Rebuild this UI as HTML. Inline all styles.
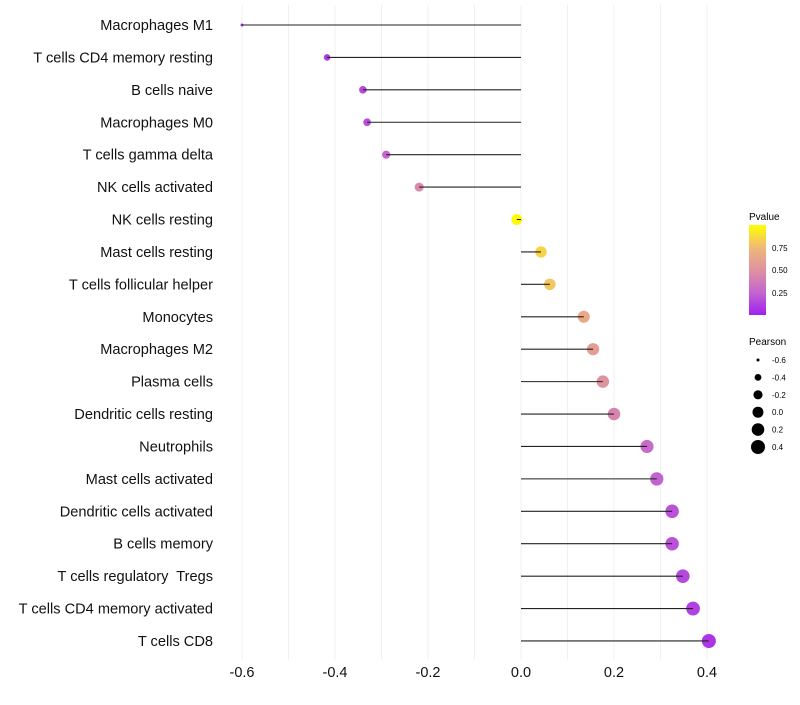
<!DOCTYPE html>
<html><head><meta charset="utf-8"><style>
body{margin:0;background:#fff;font-family:"Liberation Sans",sans-serif}
svg text{font-family:"Liberation Sans",sans-serif;white-space:pre}
</style></head><body>
<svg id="chart" width="800" height="700">
<defs><linearGradient id="pg" x1="0" y1="1" x2="0" y2="0">
<stop offset="0" stop-color="#A020F0"/><stop offset="0.25" stop-color="#C465D0"/><stop offset="0.5" stop-color="#DE92A0"/><stop offset="0.75" stop-color="#F0B878"/><stop offset="1" stop-color="#FFFF00"/></linearGradient></defs>
<g id="grid"></g><g id="marks"></g><g id="labels"></g>
<g>
<text x="749" y="220" font-size="10">Pvalue</text>
<rect x="749" y="225" width="17" height="90" fill="url(#pg)"/>
<text x="772" y="251" font-size="8">0.75</text>
<text x="772" y="273" font-size="8">0.50</text>
<text x="772" y="296" font-size="8">0.25</text>
</g>
<g id="sizeleg">
<text x="749" y="345" font-size="10">Pearson</text>
</g>
</svg>
<script>
const categories=["Macrophages M1","T cells CD4 memory resting","B cells naive","Macrophages M0","T cells gamma delta","NK cells activated","NK cells resting","Mast cells resting","T cells follicular helper","Monocytes","Macrophages M2","Plasma cells","Dendritic cells resting","Neutrophils","Mast cells activated","Dendritic cells activated","B cells memory","T cells regulatory  Tregs","T cells CD4 memory activated","T cells CD8"];
const pearson=[-0.6,-0.417,-0.34,-0.331,-0.29,-0.219,-0.009,0.043,0.062,0.135,0.155,0.176,0.2,0.271,0.292,0.325,0.325,0.348,0.37,0.404];
const pvalue=[0.02,0.1,0.15,0.17,0.25,0.45,0.99,0.85,0.8,0.65,0.57,0.5,0.43,0.28,0.24,0.18,0.18,0.15,0.12,0.08];
const xTicks=[-0.6,-0.4,-0.2,0.0,0.2,0.4];
const sizeTicks=[-0.6,-0.4,-0.2,0.0,0.2,0.4];
const NS="http://www.w3.org/2000/svg";
const x=v=>521+v*465;
const y=i=>25+i*32.42;
const r=v=>Math.sqrt(2.25+(v+0.6)*46.75);
const stops=[[160,32,240],[196,101,208],[222,146,160],[240,184,120],[255,255,0]];
function col(p){p=Math.max(0,Math.min(1,p))*4;const i=Math.min(3,Math.floor(p)),t=p-i;const a=stops[i],b=stops[i+1];return `rgb(${a.map((c,k)=>Math.round(c+(b[k]-c)*t)).join(',')})`;}
function mk(tag,at,parent){const e=document.createElementNS(NS,tag);for(const k in at)e.setAttribute(k,at[k]);document.getElementById(parent).appendChild(e);return e;}
for(let v=-0.6;v<=0.45;v+=0.1){const g=mk('line',{x1:x(v),x2:x(v),y1:5,y2:660,stroke:'#f0f0f0','stroke-width':1},'grid');

}
xTicks.forEach(t=>{const e=mk('text',{x:x(t),y:677,'font-size':14.5,'text-anchor':'middle',fill:'#111'},'labels');e.textContent=t.toFixed(1);

});
categories.forEach((c,i)=>{const e=mk('text',{x:213,y:y(i)+5,'font-size':14.6,'text-anchor':'end',fill:'#111'},'labels');e.textContent=c;


const d=mk('circle',{cx:x(pearson[i]),cy:y(i),r:r(pearson[i]),fill:col(pvalue[i])},'marks');


const l=mk('line',{x1:x(0),x2:x(pearson[i]),y1:y(i),y2:y(i),stroke:'#222','stroke-width':1.1},'marks');

});
sizeTicks.forEach((s,i)=>{const cy=360+i*17.4;const d=mk('circle',{cx:758,cy:cy,r:r(s),fill:'#000'},'sizeleg');


const t=mk('text',{x:772,y:cy+3,'font-size':8},'sizeleg');t.textContent=s.toFixed(1);

});
</script>
</body></html>
